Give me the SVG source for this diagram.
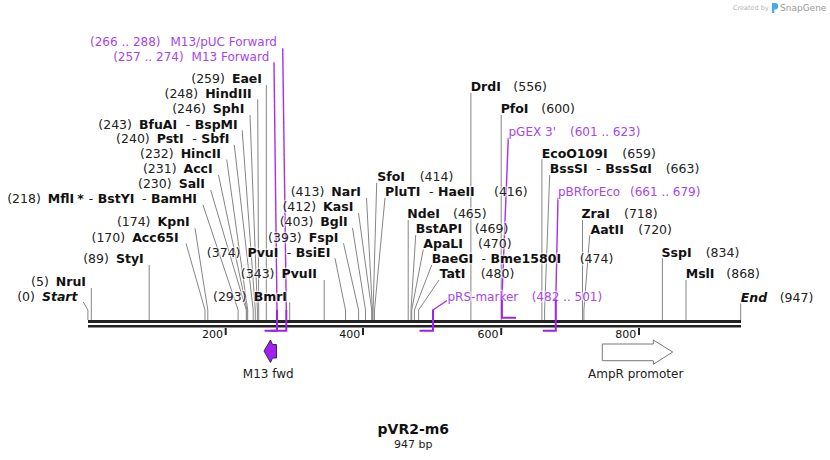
<svg xmlns="http://www.w3.org/2000/svg" width="830" height="460" viewBox="0 0 830 460">
<style>
text{font-family:"DejaVu Sans",Verdana,sans-serif;font-size:12.5px;fill:#111;stroke:#fff;stroke-width:3;stroke-opacity:0.55;paint-order:stroke;stroke-linejoin:round}
.b{font-weight:bold}
.n{font-weight:normal;fill:#222}
.p{fill:#a545f2}
.pt{font-size:12px}
.i{font-style:italic;font-weight:bold}
.c{fill:none;stroke:#858585;stroke-width:1}
.pc{fill:none;stroke:#a52ff0;stroke-width:1.4}
.pb{fill:none;stroke:#a020f0;stroke-width:2}
.tick{stroke:#222;stroke-width:2}
.tl{font-size:11px;text-anchor:end;stroke:none}
.e{text-anchor:end}
.f{font-size:12px;fill:#222}
</style>

<!-- watermark -->
<g id="watermark">
<text x="733" y="10" style="font-size:6.5px;fill:#b5b5b5;stroke:none">Created by</text>
<path d="M772,3 h3 a3.2,3.2 0 0 1 0,6.4 h-0.8 v3.6 h-2.2 z" fill="#4aa8e8"/>
<text x="780" y="11" style="font-size:9px;fill:#9a9a9a;stroke:none">SnapGene</text>
</g>

<!-- connectors -->
<g id="connectors">
<path class="c" d="M266.3,85 L266.3,320"/>
<path class="c" d="M257.7,99.3 L258.7,310 L258.7,320"/>
<path class="c" d="M250,115 L257.4,310 L257.4,320"/>
<path class="c" d="M242.2,130.3 L255.3,310 L255.3,320"/>
<path class="c" d="M234.3,145 L253.2,310 L253.2,320"/>
<path class="c" d="M226.7,159.5 L247.7,310 L247.7,320"/>
<path class="c" d="M218.5,175 L247,310 L247,320"/>
<path class="c" d="M210.7,190 L246.3,310 L246.3,320"/>
<path class="c" d="M203,205 L238.1,310 L238.1,320"/>
<path class="c" d="M195,228.3 L207.8,310 L207.8,320"/>
<path class="c" d="M186,243.3 L205,310 L205,320"/>
<path class="c" d="M149.2,265 L149.2,320"/>
<path class="c" d="M91.3,288 L91.3,320"/>
<path class="c" d="M83.3,302 L87.9,310 L87.9,320"/>
<path class="c" d="M335,258.3 L345.5,310 L345.5,320"/>
<path class="c" d="M324.2,280 L324.2,320"/>
<path class="c" d="M289.7,302.3 L289.7,320"/>
<path class="c" d="M343.5,243.3 L358.6,310 L358.6,320"/>
<path class="c" d="M352.5,228 L365.5,310 L365.5,320"/>
<path class="c" d="M358.5,213 L371.7,310 L371.7,320"/>
<path class="c" d="M366.5,198 L372.4,310 L372.4,320"/>
<path class="c" d="M376.7,182.7 L373.1,310 L373.1,320"/>
<path class="c" d="M385,197.7 L374.5,310 L374.5,320"/>
<path class="c" d="M408.2,220 L408.2,320"/>
<path class="c" d="M415.7,235 L411,310 L411,320"/>
<path class="c" d="M423.3,249.3 L411.7,310 L411.7,320"/>
<path class="c" d="M431.7,265 L414.4,310 L414.4,320"/>
<path class="c" d="M439,280 L418.6,310 L418.6,320"/>
<path class="c" d="M470.9,93 L470.9,320"/>
<path class="c" d="M501.2,115 L501.2,320"/>
<path class="c" d="M541.9,159.3 L541.9,320"/>
<path class="c" d="M549.7,175 L544.6,310 L544.6,320"/>
<path class="c" d="M582.5,220 L582.5,320"/>
<path class="c" d="M589.7,235.3 L583.9,310 L583.9,320"/>
<path class="c" d="M662.4,258.3 L662.4,320"/>
<path class="c" d="M686,280 L686,320"/>
<path class="c" d="M740.7,303.3 L740.7,320"/>
<!-- primer connectors -->
<path class="pc" d="M282.7,48.3 L286.3,310"/>
<path class="pc" d="M274,62.3 L277,310"/>
<path class="pc" d="M447,300.5 L433,310"/>
<path class="pc" d="M508.3,137.7 L501.9,300"/>
<path class="pc" d="M558,197.7 L555.8,300"/>
</g>

<!-- backbone -->
<g id="backbone">
<rect x="88" y="320" width="653" height="3" fill="#222"/>
<rect x="88" y="325" width="653" height="2.5" fill="#222"/>
<line class="tick" x1="225.7" y1="328" x2="225.7" y2="335"/>
<line class="tick" x1="363" y1="328" x2="363" y2="335"/>
<line class="tick" x1="501.2" y1="328" x2="501.2" y2="335"/>
<line class="tick" x1="639" y1="328" x2="639" y2="335"/>
<text class="tl" x="223" y="337.5">200</text>
<text class="tl" x="360.3" y="337.5">400</text>
<text class="tl" x="498.5" y="337.5">600</text>
<text class="tl" x="636.3" y="337.5">800</text>
</g>

<!-- primers -->
<g id="primer-M13pUC">
<path class="pb" d="M286.3,310 L286.3,330.7 L270.5,330.7"/>
<text class="e pt" x="277" y="46.3"><tspan class="p">(266 .. 288)</tspan><tspan class="p" dx="10">M13/pUC Forward</tspan></text>
</g>
<g id="primer-M13F">
<path class="pb" d="M277,310 L277,330.7 L264.5,330.7"/>
<text class="e pt" x="269.3" y="61"><tspan class="p">(257 .. 274)</tspan><tspan class="p" dx="8">M13 Forward</tspan></text>
</g>
<g id="primer-pRS">
<path class="pb" d="M433,309.5 L433,330.7 L419.5,330.7"/>
<text class="pt" x="447.5" y="301"><tspan class="p">pRS-marker</tspan><tspan class="p" x="531.7">(482 .. 501)</tspan></text>
</g>
<g id="primer-pGEX">
<path class="pb" d="M501.9,299.5 L501.9,317.7 L516,317.7"/>
<text class="pt" x="508.5" y="136"><tspan class="p">pGEX 3'</tspan><tspan class="p" x="570">(601 .. 623)</tspan></text>
</g>
<g id="primer-pBR">
<path class="pb" d="M555.8,299.5 L555.8,330.7 L542.8,330.7"/>
<text class="pt" x="558" y="196"><tspan class="p">pBRforEco</tspan><tspan class="p" x="630">(661 .. 679)</tspan></text>
</g>

<!-- left (right-aligned) site labels -->
<g id="EaeI"><text class="e" x="262" y="83.3"><tspan class="n">(259)</tspan><tspan class="b" dx="7">EaeI</tspan></text></g>
<g id="HindIII"><text class="e" x="251.7" y="97.6"><tspan class="n">(248)</tspan><tspan class="b" dx="7">HindIII</tspan></text></g>
<g id="SphI"><text class="e" x="244.3" y="113.3"><tspan class="n">(246)</tspan><tspan class="b" dx="7">SphI</tspan></text></g>
<g id="BfuAI"><text class="e" x="237.7" y="128.6"><tspan class="n">(243)</tspan><tspan class="b" dx="7">BfuAI</tspan><tspan class="n" dx="8.5">-</tspan><tspan class="b" dx="4.5">BspMI</tspan></text></g>
<g id="PstI"><text class="e" x="229.3" y="143"><tspan class="n">(240)</tspan><tspan class="b" dx="7">PstI</tspan><tspan class="n" dx="8.5">-</tspan><tspan class="b" dx="4.5">SbfI</tspan></text></g>
<g id="HincII"><text class="e" x="221" y="157.6"><tspan class="n">(232)</tspan><tspan class="b" dx="7">HincII</tspan></text></g>
<g id="AccI"><text class="e" x="212.7" y="173.3"><tspan class="n">(231)</tspan><tspan class="b" dx="7">AccI</tspan></text></g>
<g id="SalI"><text class="e" x="205" y="188.3"><tspan class="n">(230)</tspan><tspan class="b" dx="7">SalI</tspan></text></g>
<g id="MflI"><text class="e" x="197" y="203.3"><tspan class="n">(218)</tspan><tspan class="b" dx="7">MflI</tspan><tspan class="b" dx="3">*</tspan><tspan class="n" dx="5">-</tspan><tspan class="b" dx="4.5">BstYI</tspan><tspan class="n" dx="7.5">-</tspan><tspan class="b" dx="4.5">BamHI</tspan></text></g>
<g id="KpnI"><text class="e" x="189.7" y="226.3"><tspan class="n">(174)</tspan><tspan class="b" dx="7">KpnI</tspan></text></g>
<g id="Acc65I"><text class="e" x="178.7" y="241.6"><tspan class="n">(170)</tspan><tspan class="b" dx="7">Acc65I</tspan></text></g>
<g id="StyI"><text class="e" x="143.7" y="263.3"><tspan class="n">(89)</tspan><tspan class="b" dx="7">StyI</tspan></text></g>
<g id="NruI"><text class="e" x="86" y="286"><tspan class="n">(5)</tspan><tspan class="b" dx="7">NruI</tspan></text></g>
<g id="Start"><text class="e" x="77.5" y="301"><tspan class="n">(0)</tspan><tspan class="i" dx="7">Start</tspan></text></g>

<!-- middle (right-aligned) site labels -->
<g id="PvuI"><text class="e" x="330.3" y="256.6"><tspan class="n">(374)</tspan><tspan class="b" dx="7">PvuI</tspan><tspan class="n" dx="8.5">-</tspan><tspan class="b" dx="4.5">BsiEI</tspan></text></g>
<g id="PvuII"><text class="e" x="317" y="278.3"><tspan class="n">(343)</tspan><tspan class="b" dx="7">PvuII</tspan></text></g>
<g id="BmrI"><text class="e" x="287" y="301"><tspan class="n">(293)</tspan><tspan class="b" dx="7">BmrI</tspan></text></g>
<g id="FspI"><text class="e" x="338.3" y="241.6"><tspan class="n">(393)</tspan><tspan class="b" dx="7">FspI</tspan></text></g>
<g id="BglI"><text class="e" x="347.7" y="226.3"><tspan class="n">(403)</tspan><tspan class="b" dx="7">BglI</tspan></text></g>
<g id="KasI"><text class="e" x="353.3" y="211.3"><tspan class="n">(412)</tspan><tspan class="b" dx="7">KasI</tspan></text></g>
<g id="NarI"><text class="e" x="361" y="196.3"><tspan class="n">(413)</tspan><tspan class="b" dx="7">NarI</tspan></text></g>

<!-- right (left-aligned) site labels -->
<g id="SfoI"><text x="377.3" y="181"><tspan class="b">SfoI</tspan><tspan class="n" x="419.7">(414)</tspan></text></g>
<g id="PluTI"><text x="385" y="196"><tspan class="b">PluTI</tspan><tspan class="n" dx="8.5">-</tspan><tspan class="b" dx="4.5">HaeII</tspan><tspan class="n" x="494">(416)</tspan></text></g>
<g id="NdeI"><text x="407.3" y="218.3"><tspan class="b">NdeI</tspan><tspan class="n" x="453">(465)</tspan></text></g>
<g id="BstAPI"><text x="415.7" y="233.3"><tspan class="b">BstAPI</tspan><tspan class="n" x="474.7">(469)</tspan></text></g>
<g id="ApaLI"><text x="423.3" y="247.6"><tspan class="b">ApaLI</tspan><tspan class="n" x="478">(470)</tspan></text></g>
<g id="BaeGI"><text x="431.7" y="263.3"><tspan class="b">BaeGI</tspan><tspan class="n" dx="8.5">-</tspan><tspan class="b" dx="4.5">Bme1580I</tspan><tspan class="n" x="579.7">(474)</tspan></text></g>
<g id="TatI"><text x="439.5" y="278.3"><tspan class="b">TatI</tspan><tspan class="n" x="480.7">(480)</tspan></text></g>
<g id="DrdI"><text x="470.7" y="91"><tspan class="b">DrdI</tspan><tspan class="n" x="513.3">(556)</tspan></text></g>
<g id="PfoI"><text x="500.7" y="113.3"><tspan class="b">PfoI</tspan><tspan class="n" x="541.3">(600)</tspan></text></g>
<g id="EcoO109I"><text x="541.7" y="157.6"><tspan class="b">EcoO109I</tspan><tspan class="n" x="622.3">(659)</tspan></text></g>
<g id="BssSI"><text x="549.7" y="173.3"><tspan class="b">BssSI</tspan><tspan class="n" dx="8.5">-</tspan><tspan class="b" dx="4.5">BssSαI</tspan><tspan class="n" x="665.7">(663)</tspan></text></g>
<g id="ZraI"><text x="581.5" y="218.3"><tspan class="b">ZraI</tspan><tspan class="n" x="624">(718)</tspan></text></g>
<g id="AatII"><text x="590.5" y="233.6"><tspan class="b">AatII</tspan><tspan class="n" x="638.3">(720)</tspan></text></g>
<g id="SspI"><text x="661.5" y="256.6"><tspan class="b">SspI</tspan><tspan class="n" x="705.7">(834)</tspan></text></g>
<g id="MslI"><text x="685.7" y="278.3"><tspan class="b">MslI</tspan><tspan class="n" x="726.3">(868)</tspan></text></g>
<g id="End"><text x="740.7" y="301.6"><tspan class="i">End</tspan><tspan class="n" x="779.7">(947)</tspan></text></g>

<!-- features -->
<g id="M13fwd">
<polygon points="264,351 270.5,340 272.5,344.5 276.5,344.5 276.5,358 272.5,358 270.5,362.5" fill="#a020f0" stroke="#3a2a45" stroke-width="1"/>
<text class="f" x="268.3" y="377.6" text-anchor="middle">M13 fwd</text>
</g>
<g id="AmpRpromoter">
<polygon points="602.3,344 653.3,344 653.3,340 672.7,352 653.3,364.3 653.3,360.7 602.3,360.7" fill="#fff" stroke="#777" stroke-width="1"/>
<text class="f" x="635.7" y="377.6" text-anchor="middle">AmpR promoter</text>
</g>

<!-- title -->
<g id="title">
<text x="413.3" y="434" text-anchor="middle" style="font-size:14px;font-weight:bold;stroke:none">pVR2-m6</text>
<text x="413.3" y="448" text-anchor="middle" style="font-size:11px;fill:#222;stroke:none">947 bp</text>
</g>
</svg>
